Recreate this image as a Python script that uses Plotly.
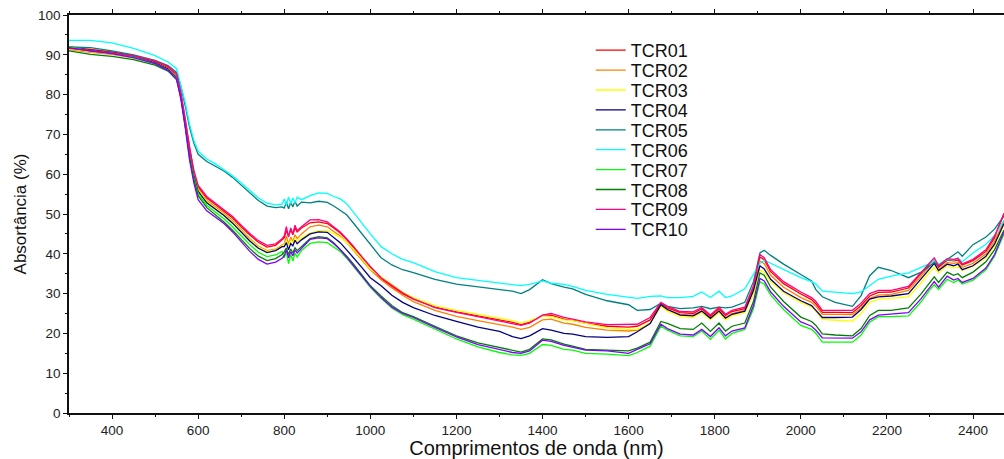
import plotly.graph_objects as go

WAVELENGTH = [
    300, 350, 400, 450, 500, 530, 550,
    560, 570, 580, 590, 600, 620, 640, 660, 680, 700, 720, 740, 760, 780, 795,
    800, 805, 810, 815, 820, 825, 830, 840,
    860, 880, 900, 915, 930, 945, 960, 980, 1000,
    1025, 1050, 1075, 1100, 1150, 1200, 1250, 1300, 1330, 1350, 1370, 1400, 1420, 1450, 1470, 1500, 1550, 1600, 1620, 1650,
    1675, 1690, 1720, 1750, 1770, 1790, 1810, 1825, 1840, 1870, 1890,
    1905, 1915, 1930, 1960, 2000, 2025, 2035, 2050, 2080, 2120, 2140, 2160, 2180, 2210, 2250, 2280, 2300, 2310, 2320, 2340, 2355, 2365, 2375, 2400, 2430, 2450, 2472,
]

TCR01 = [
    92.0, 91.3, 90.7, 89.8, 88.3, 86.8, 84.8,
    80.0, 73.5, 66.0, 60.5, 56.8, 54.0, 52.4, 50.8, 49.0, 46.8, 44.7, 42.9, 41.7, 42.1, 43.4,
    44.0, 45.8, 44.5, 46.0, 44.8, 46.5, 45.5, 46.5,
    47.8, 48.0, 47.6, 46.5, 45.2, 43.6, 41.8, 39.2, 36.6,
    33.8, 31.8, 30.0, 28.6, 26.6, 25.4, 24.4, 23.4, 22.8, 22.2, 22.8, 24.5, 24.6, 23.6, 23.3, 22.6, 21.8, 21.6, 21.8, 23.4,
    27.5, 26.4, 25.2, 25.0, 26.2, 24.3, 26.2, 24.5, 25.5, 26.2, 31.5,
    39.2, 38.5, 35.5, 32.5, 29.9, 28.5, 27.4, 25.3, 25.3, 25.2, 27.0, 29.4, 30.3, 30.4, 31.4, 35.2, 37.6, 38.4, 36.6, 38.4, 38.2, 38.4, 37.2, 38.3, 40.6, 44.0, 50.2,
]
TCR02 = [
    91.3, 90.6, 90.1, 89.2, 87.9, 86.4, 84.4,
    79.8, 73.0, 65.5, 60.0, 56.2, 53.4, 51.8, 50.2, 48.3, 46.0, 43.8, 41.9, 40.8, 41.2, 42.3,
    42.5, 44.5, 42.3, 44.2, 43.0, 44.8, 43.8, 45.0,
    46.8, 47.2, 46.8, 45.6, 44.5, 42.8, 41.0, 38.5, 36.0,
    33.5, 31.4, 29.6, 28.0, 25.8, 24.3, 23.2, 22.2, 21.6, 21.0, 21.5, 23.4, 23.6, 22.6, 22.3, 21.5, 20.8, 20.6, 20.8, 22.6,
    27.0, 26.0, 24.8, 24.6, 25.6, 23.9, 25.8, 24.0, 25.0, 25.8, 30.8,
    38.2, 37.5, 34.6, 31.6, 29.0, 27.8, 26.8, 24.8, 24.8, 24.7, 26.4, 28.8, 29.6, 29.8, 30.8, 34.6, 37.0, 37.8, 36.0, 37.8, 37.6, 37.8, 36.6, 37.6, 40.0, 43.2, 48.2,
]
TCR03 = [
    91.5, 90.8, 90.3, 89.4, 88.0, 86.5, 84.5,
    79.8, 73.0, 65.5, 60.0, 56.0, 53.1, 51.5, 49.9, 48.0, 45.7, 43.5, 41.7, 40.6, 41.0, 42.0,
    42.3, 43.2, 42.0, 43.5, 42.8, 43.8, 43.2, 44.0,
    45.2, 45.8, 45.8, 45.0, 44.2, 42.8, 41.2, 38.8, 36.2,
    34.2, 32.2, 30.4, 29.0, 27.0, 25.8, 24.8, 23.8, 23.2, 22.6, 23.2, 24.4, 24.2, 23.4, 23.2, 22.5, 21.4, 21.0, 21.0, 22.6,
    26.8, 25.6, 24.2, 24.0, 25.2, 23.4, 25.2, 23.4, 24.4, 25.2, 29.8,
    36.0, 35.4, 33.0, 30.2, 27.8, 26.6, 25.6, 23.5, 23.3, 23.1, 25.0, 27.8, 28.6, 28.8, 29.2, 32.8, 35.6, 36.6, 35.2, 37.0, 36.4, 36.8, 35.8, 36.8, 39.0, 42.0, 47.4,
]
TCR04 = [
    91.8, 91.1, 90.4, 89.5, 88.0, 86.4, 84.3,
    79.5, 72.8, 65.2, 59.7, 55.7, 52.8, 51.2, 49.6, 47.7, 45.4, 43.2, 41.4, 40.3, 40.8, 41.8,
    41.8, 42.8, 41.0, 42.6, 42.0, 43.4, 42.5, 43.5,
    45.0, 45.5, 45.4, 44.0, 42.8, 41.0, 39.2, 36.6, 34.0,
    32.0, 29.6, 27.8, 26.5, 24.5, 23.0, 21.6, 20.5, 19.2, 18.7, 19.4, 21.2, 20.8, 20.0, 19.8, 19.2, 19.0, 19.2, 20.4, 22.5,
    27.2, 26.0, 24.6, 24.4, 25.6, 23.8, 25.6, 23.8, 24.8, 25.6, 30.8,
    37.0, 36.2, 33.6, 30.6, 28.2, 27.0, 25.8, 24.0, 24.0, 24.1, 26.0, 28.6, 29.2, 29.4, 30.0, 33.8, 36.4, 37.6, 35.8, 37.4, 37.0, 37.4, 36.0, 37.0, 39.4, 42.4, 47.6,
]
TCR05 = [
    92.0, 91.8, 91.0, 90.0, 88.6, 87.3, 85.6,
    82.0, 77.2, 71.8, 67.8, 65.0, 63.2, 62.0, 60.8, 59.2, 57.3, 55.2, 53.4, 52.0, 51.6, 51.8,
    51.5, 53.0, 51.3, 52.9, 51.8, 53.2, 52.0, 53.0,
    52.8, 53.2, 52.9, 52.0, 51.0, 49.8, 47.8, 45.0, 42.4,
    39.0, 37.2, 36.0, 35.3, 33.6, 32.4, 31.7, 31.0, 30.6, 30.0, 31.0, 33.5, 32.5, 31.6, 31.2, 29.8, 28.2, 27.2, 25.8, 26.0,
    27.6, 26.8, 26.2, 26.4, 26.8, 26.2, 26.6, 26.4, 26.6, 27.8, 33.0,
    40.2, 40.9, 39.6, 37.4, 34.8, 33.2, 31.0, 29.2, 27.8, 26.8, 29.5, 34.5, 36.6, 35.8, 34.0, 35.4, 37.0, 37.8, 37.0, 38.6, 39.6, 40.5, 39.4, 42.3, 44.2, 46.2, 49.5,
]
TCR06 = [
    93.6, 93.6, 93.0, 91.6, 89.8, 88.2, 86.5,
    82.5, 78.0, 72.5, 68.5, 65.8, 63.8, 62.6, 61.2, 59.6, 57.8, 55.8, 54.0, 52.7, 52.3, 52.5,
    53.8, 52.2, 54.3, 52.6, 54.0, 52.8, 54.2, 53.6,
    54.6, 55.3, 55.2, 54.4, 53.8, 52.6, 50.5, 48.0, 45.0,
    41.8, 40.0, 38.6, 37.8, 35.5, 34.0, 33.3, 32.7, 32.4, 32.0, 32.3, 33.2, 32.6, 32.3, 31.8, 30.8, 29.8, 29.2, 28.8, 29.3,
    29.4, 29.0, 29.0, 29.3, 30.4, 29.0, 30.6, 29.0, 29.4, 31.2, 35.0,
    37.6, 38.4, 37.6, 36.0, 34.0, 33.0, 32.4, 30.6, 30.4, 30.0, 30.4, 32.0, 33.6, 34.4, 35.2, 36.6, 37.6, 38.4, 37.4, 38.6, 38.4, 39.0, 38.0, 40.2, 42.4, 44.6, 48.5,
]
TCR07 = [
    92.0, 91.0, 90.4, 89.4, 87.8, 86.2, 84.0,
    79.5, 72.6, 64.8, 59.2, 55.2, 52.2, 50.5, 48.8, 46.8, 44.5, 42.3, 40.4, 39.3, 39.7, 40.6,
    39.0, 40.5, 37.5, 39.8, 38.2, 40.2, 39.2, 40.8,
    42.6, 43.0, 42.8, 41.8, 40.6, 38.9, 37.0, 34.3, 31.6,
    28.8, 26.4, 24.7, 23.6, 21.0, 18.6, 16.6, 15.2, 14.6, 14.5, 15.0, 17.2, 17.0, 16.0, 15.8, 15.0, 14.8, 14.4, 15.2, 16.8,
    21.8, 20.8, 19.4, 19.2, 20.6, 18.5, 20.8, 18.6, 20.0, 21.0, 26.2,
    33.0, 32.4, 29.6, 26.0, 22.0, 21.0, 20.0, 17.8, 17.8, 17.8, 19.6, 22.8, 24.2, 24.2, 24.4, 28.0, 31.0, 32.2, 31.0, 33.6, 32.8, 33.4, 32.4, 33.4, 36.0, 39.4, 45.0,
]
TCR08 = [
    91.0, 90.1, 89.6, 88.8, 87.4, 85.9, 83.8,
    79.2, 72.2, 64.3, 58.6, 54.6, 51.6, 49.8, 48.0, 45.9, 43.5, 41.3, 39.4, 38.3, 38.8, 39.8,
    40.5, 41.5, 39.8, 41.2, 40.2, 41.5, 40.8, 41.8,
    43.8, 44.3, 44.0, 42.8, 41.2, 39.4, 37.5, 34.8, 32.0,
    29.4, 27.0, 25.2, 24.2, 21.8, 19.4, 17.6, 16.4, 15.6, 15.3, 16.0, 18.6, 18.4, 17.3, 16.8, 16.0, 15.8, 15.6, 16.3, 17.8,
    23.0, 22.5, 21.2, 21.0, 22.6, 20.5, 22.6, 20.6, 21.8, 22.6, 28.0,
    35.2, 34.6, 31.6, 28.0, 24.1, 23.0, 22.0, 19.9, 19.6, 19.4, 21.2, 24.5, 25.8, 25.8, 26.4, 30.0, 33.0, 34.2, 32.8, 35.4, 34.6, 35.0, 34.0, 35.4, 38.0, 41.0, 46.0,
]
TCR09 = [
    91.6, 91.0, 90.5, 89.8, 88.5, 87.1, 85.2,
    80.5, 74.0, 66.5, 61.0, 57.2, 54.4, 52.8, 51.2, 49.4, 47.2, 45.1, 43.3, 42.1, 42.5, 43.8,
    44.5, 46.8, 44.2, 46.5, 45.0, 47.2, 45.8, 46.8,
    48.5, 48.6, 48.0, 46.8, 45.5, 43.8, 42.0, 39.3, 36.8,
    34.0, 32.0, 30.2, 28.7, 26.5, 25.3, 24.2, 23.2, 22.6, 22.0, 22.6, 24.6, 25.0, 24.0, 23.6, 22.9, 22.2, 22.2, 22.3, 24.0,
    27.8, 26.8, 25.5, 25.4, 26.5, 24.6, 26.6, 24.8, 25.8, 26.6, 32.0,
    39.8, 39.0, 36.0, 33.0, 30.4, 29.0, 28.0, 25.8, 25.8, 25.8, 27.6, 30.0, 30.8, 30.8, 31.8, 35.5, 38.0, 39.0, 37.0, 38.8, 38.6, 38.8, 37.5, 38.6, 41.0, 44.5, 50.0,
]
TCR10 = [
    91.8, 90.9, 90.3, 89.3, 87.8, 86.1, 83.8,
    78.8, 71.7, 63.6, 57.8, 53.6, 50.8, 49.2, 47.6, 45.5, 43.0, 40.6, 38.6, 37.4, 37.9, 38.9,
    39.5, 41.0, 39.0, 40.5, 39.5, 41.0, 40.2, 41.4,
    43.6, 44.0, 43.8, 42.5, 41.0, 39.2, 37.2, 34.5, 31.8,
    29.0, 26.6, 25.0, 24.0, 21.5, 19.1, 17.2, 16.0, 15.2, 15.0, 15.6, 18.3, 18.0, 17.0, 16.5, 15.8, 15.6, 15.0, 16.0, 17.4,
    22.3, 21.2, 19.8, 19.6, 21.0, 19.2, 21.4, 19.4, 20.6, 21.4, 27.0,
    33.8, 33.2, 30.4, 26.8, 22.9, 21.8, 20.8, 18.9, 18.8, 18.8, 20.4, 23.4, 24.6, 24.8, 25.2, 28.8, 31.8, 33.0, 31.6, 34.4, 33.4, 33.8, 32.8, 33.8, 36.4, 39.8, 45.5,
]

SERIES_NAMES = ["TCR01", "TCR02", "TCR03", "TCR04", "TCR05",
                "TCR06", "TCR07", "TCR08", "TCR09", "TCR10"]
SERIES_VALUES = [TCR01, TCR02, TCR03, TCR04, TCR05, TCR06, TCR07, TCR08, TCR09, TCR10]
SERIES_COLORS = ["#FF0000", "#FF8000", "#FFFF00", "#000080", "#008080",
                 "#00FFFF", "#00FF00", "#008000", "#FF0080", "#8000FF"]

X_TITLE = "Comprimentos de onda (nm)"
Y_TITLE = "Absortância (%)"

for v in SERIES_VALUES:
    assert len(v) == len(WAVELENGTH), len(v)

FONT = "Liberation Sans, Arial, sans-serif"

# plot-area geometry (pixels)
PLOT_TOP, PLOT_BOTTOM = 15, 413
LEG_FIRST_Y, LEG_STEP = 50.5, 19.9

fig = go.Figure()
legend_layouts = {}
for i, (name, vals, col) in enumerate(zip(SERIES_NAMES, SERIES_VALUES, SERIES_COLORS)):
    key = "legend" if i == 0 else f"legend{i + 1}"
    fig.add_trace(go.Scatter(x=WAVELENGTH, y=vals, mode="lines", name=name,
                             line=dict(color=col, width=1.3), legend=key))
    ypx = LEG_FIRST_Y + i * LEG_STEP
    legend_layouts[key] = dict(
        x=0.558, y=(PLOT_BOTTOM - ypx) / (PLOT_BOTTOM - PLOT_TOP),
        xanchor="left", yanchor="middle", bgcolor="rgba(0,0,0,0)",
        font=dict(family=FONT, size=18, color="#111"), itemwidth=30,
    )

axis_common = dict(
    showgrid=False, zeroline=False, showline=True, linecolor="#111", linewidth=1.5,
    ticks="outside", ticklen=4, tickwidth=1, tickcolor="#111",
    tickfont=dict(family=FONT, size=13.5, color="#222"),
)

fig.update_xaxes(range=[300, 2472], dtick=200, tick0=0, mirror="ticks",
                 minor=dict(ticks="outside", dtick=100, ticklen=2, tickcolor="#111"),
                 title=dict(text=X_TITLE, font=dict(family=FONT, size=20, color="#111"), standoff=5),
                 **axis_common)
fig.update_yaxes(range=[0, 100], dtick=10, tick0=0,
                 minor=dict(ticks="outside", dtick=5, ticklen=2, tickcolor="#111"),
                 title=dict(text=Y_TITLE, font=dict(family=FONT, size=17, color="#111"), standoff=7),
                 **axis_common)

fig.update_layout(
    width=1004, height=459,
    margin=dict(l=69, r=0, t=PLOT_TOP, b=459 - PLOT_BOTTOM),
    paper_bgcolor="white", plot_bgcolor="white",
    font=dict(family=FONT),
    showlegend=True,
    **legend_layouts,
)

fig.write_html("out.html")
